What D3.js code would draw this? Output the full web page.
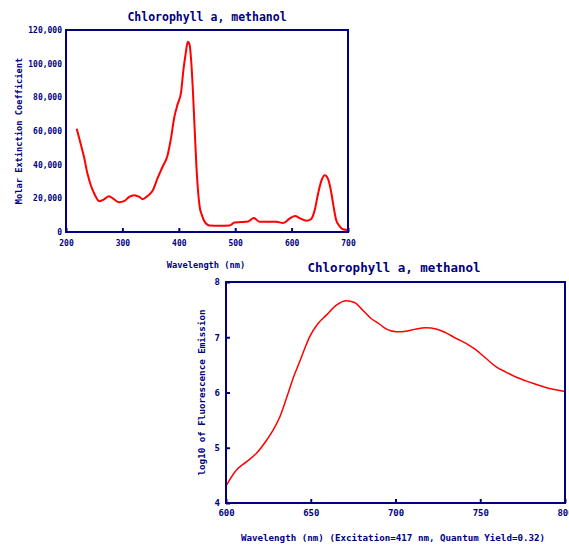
<!DOCTYPE html>
<html><head><meta charset="utf-8">
<script src="https://cdn.jsdelivr.net/npm/d3@7"></script>
<style>
html,body{margin:0;padding:0;background:#fff;}
svg text{font-family:"DejaVu Sans Mono",monospace;font-weight:bold;fill:#000080;}
</style></head>
<body>
<svg id="chart" width="569" height="546"></svg>
<script>
// Absorption spectrum (top)
const absWavelength = [219,226,232,238,244,250,259,268,276,285,294,303,312,321,330,336,345,354,362,371,380,386,392,398,404,408,412,416,419,422,425,428,431,434,437,441,445,454,472,490,499,511,523,533,543,558,573,585,597,606,615,626,634,641,647,653,659,665,669,674,679,685,691,699];
const absCoefficient = [61300,52400,44500,34700,27800,22900,18300,19500,21300,19500,17700,18300,20900,21900,20900,19500,21500,24800,31700,38600,45500,55400,68200,76000,82900,95700,105600,113000,111500,101600,83900,62300,40600,24800,15000,10000,6500,3900,3700,3900,5700,5900,6300,8300,6100,6100,6100,5300,8100,9500,8100,6700,7500,13000,22900,30700,33700,31100,25800,16000,7100,3500,1600,1200];
const absXTicks = [200,300,400,500,600,700];
const absYTicks = [0,20000,40000,60000,80000,100000,120000];

// Fluorescence emission (bottom)
const emWavelength = [600.4,606.3,612.2,618,624,627.8,631.8,635.7,639.6,643.5,646.5,649.4,654.3,659.2,665.1,671,675.8,680.7,685.6,690.5,694.5,700.4,706.3,712.2,718,724,729.8,735.7,741.6,747.5,753.3,759.2,765.1,771,776.9,782.7,788.6,794.5,800];
const emLog10 = [4.33,4.60,4.75,4.90,5.14,5.32,5.56,5.90,6.26,6.56,6.80,7.01,7.25,7.40,7.58,7.66,7.63,7.49,7.34,7.24,7.15,7.10,7.11,7.15,7.17,7.15,7.08,6.98,6.89,6.77,6.62,6.47,6.37,6.28,6.21,6.15,6.09,6.05,6.02];
const emXTicks = [600,650,700,750,800];
const emYTicks = [4,5,6,7,8];

const navy = "#000080", red = "#ff0000";
const svg = d3.select("#chart");

function panel(o) {
  const g = svg.append("g");
  const x = d3.scaleLinear().domain(o.xDomain).range([o.left, o.right]);
  const y = d3.scaleLinear().domain(o.yDomain).range([o.bottom, o.top]);

  const xa = g.append("g").attr("transform", `translate(0,${o.bottom})`)
    .call(d3.axisBottom(x).tickValues(o.xTicks).tickSizeInner(-4).tickSizeOuter(0).tickPadding(o.xPad).tickFormat(d3.format("d")));
  xa.select(".domain").remove();
  xa.selectAll("line").attr("stroke", navy).attr("stroke-width", 2);
  xa.selectAll("text").attr("font-size", o.tickSize).attr("fill", navy).style("font-family", '"DejaVu Sans Mono",monospace').style("font-weight","bold");

  const ya = g.append("g").attr("transform", `translate(${o.left},0)`)
    .call(d3.axisLeft(y).tickValues(o.yTicks).tickSizeInner(o.yTick).tickSizeOuter(0).tickPadding(o.yPad).tickFormat(o.yFormat));
  ya.select(".domain").remove();
  ya.selectAll("line").attr("stroke", navy).attr("stroke-width", 2);
  ya.selectAll("text").attr("font-size", o.tickSize).attr("fill", navy).style("font-family", '"DejaVu Sans Mono",monospace').style("font-weight","bold");

  const line = d3.line().x(d => x(d[0])).y(d => y(d[1])).curve(o.curve);
  g.append("path").datum(d3.zip(o.xs, o.ys))
    .attr("d", line).attr("fill", "none").attr("stroke", red).attr("stroke-width", o.lw)
    .attr("stroke-linejoin", "round");

  g.append("rect").attr("x", o.left).attr("y", o.top)
    .attr("width", o.right - o.left).attr("height", o.bottom - o.top)
    .attr("fill", "none").attr("stroke", navy).attr("stroke-width", 2);

  g.append("text").attr("x", o.titleX).attr("y", o.titleY).attr("text-anchor", "middle")
    .attr("font-size", o.titleSize).text(o.title);
  g.append("text").attr("x", o.xLabelX).attr("y", o.xLabelY).attr("text-anchor", "middle")
    .attr("font-size", o.labelSize).text(o.xLabel);
  g.append("text").attr("transform", `translate(${o.yLabelX},${(o.top + o.bottom) / 2}) rotate(-90)`)
    .attr("text-anchor", "middle").attr("dominant-baseline", "middle")
    .attr("font-size", o.labelSize).text(o.yLabel);
}

panel({
  left: 66, right: 348, top: 30, bottom: 232,
  xDomain: [200, 700], yDomain: [0, 120000],
  xTicks: absXTicks, yTicks: absYTicks,
  xPad: 8, yPad: 4, yTick: 0, tickSize: 8,
  yFormat: d3.format(","),
  xs: absWavelength, ys: absCoefficient, lw: 2, curve: d3.curveMonotoneX,
  title: "Chlorophyll a, methanol", titleX: 207, titleY: 21, titleSize: 11.5,
  xLabel: "Wavelength (nm)", xLabelX: 206, xLabelY: 268, labelSize: 8.7,
  yLabel: "Molar Extinction Coefficient", yLabelX: 19
});

panel({
  left: 226, right: 565, top: 282, bottom: 503,
  xDomain: [600, 800], yDomain: [4, 8],
  xTicks: emXTicks, yTicks: emYTicks,
  xPad: 7, yPad: 6, yTick: -4, tickSize: 9,
  yFormat: d3.format("d"),
  xs: emWavelength, ys: emLog10, lw: 1.5, curve: d3.curveMonotoneX,
  title: "Chlorophyll a, methanol", titleX: 394, titleY: 272, titleSize: 12.5,
  xLabel: "Wavelength (nm) (Excitation=417 nm, Quantum Yield=0.32)", xLabelX: 393, xLabelY: 541, labelSize: 9.2,
  yLabel: "log10 of Fluorescence Emission", yLabelX: 202
});
</script>
</body></html>
